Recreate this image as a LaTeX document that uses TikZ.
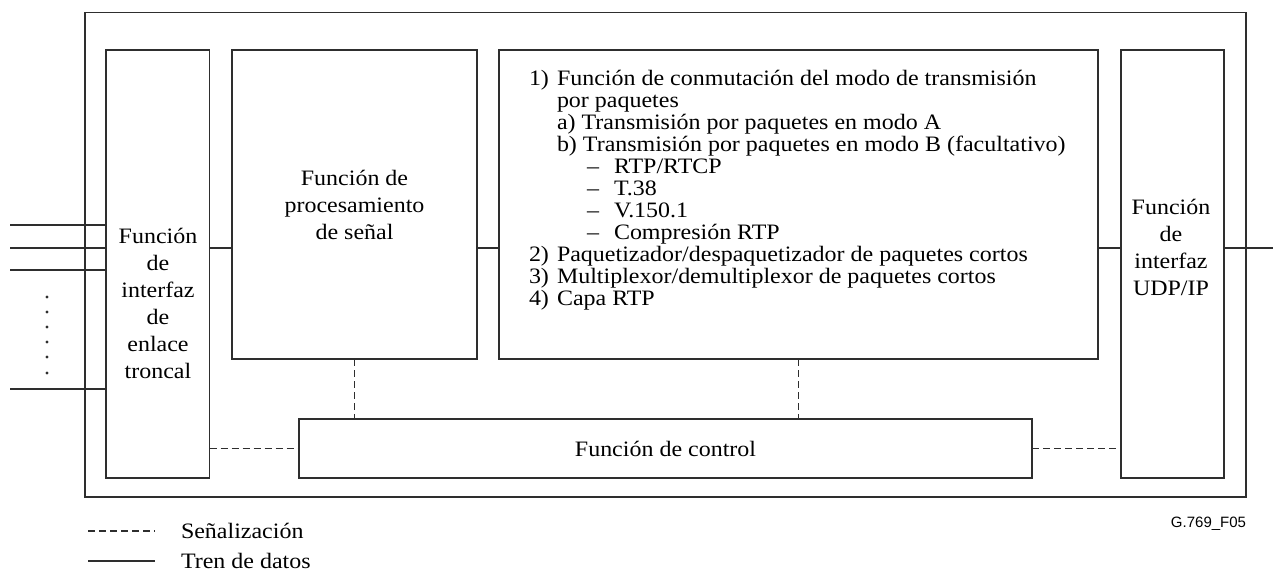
\documentclass[tikz,border=0pt]{standalone}
\usepackage{fontspec}
\setmainfont{Liberation Serif}[FakeStretch=1.09]
\newfontfamily\figsans{Liberation Sans}
\definecolor{ink}{gray}{0.18}
\begin{document}
\begin{tikzpicture}[x=1pt,y=-1pt,
  every node/.style={inner sep=0pt, outer sep=0pt},
  box/.style={draw=ink, line width=1.3pt, rectangle},
  frame/.style={draw=ink, line width=1.6pt, rectangle},
  txt/.style={font=\fontsize{22}{22}\selectfont, text=black},
  data/.style={draw=ink, line width=1.3pt},
  sig/.style={draw=ink, line width=1.3pt, dash pattern=on 7pt off 4pt},
]
\useasboundingbox (0,0) rectangle (1273,577);

% outer frame
\node[frame, minimum width=1161pt, minimum height=484.3pt] (frame) at (665.5,254.85) {};

% boxes
\node[box, minimum width=103.5pt, minimum height=428pt] (lb) at (157.75,264) {};
\node[txt, align=center, font=\fontsize{22}{27}\selectfont] (lbt) at (158,303) {Función\\de\\interfaz\\de\\enlace\\troncal};

\node[box, txt, align=center, font=\fontsize{22}{27}\selectfont, minimum width=245pt, minimum height=309pt] (sp) at (354.5,204.5) {Función de\\procesamiento\\de señal};

\node[box, minimum width=599pt, minimum height=309pt] (pk) at (798.5,204.5) {};

\node[box, minimum width=103pt, minimum height=428pt] (ud) at (1172.5,264) {};
\node[txt, align=center, font=\fontsize{22}{27}\selectfont] (udt) at (1171,247) {Función\\de\\interfaz\\UDP/IP};

\node[box, txt, minimum width=733pt, minimum height=59pt] (ct) at (665.5,448.5) {Función de control};

% text of the packet box
\node[txt, anchor=base west] (p1) at (529,85.7) {1)};
\node[txt, anchor=base west] (p1t) at (557,85.7) {Función de conmutación del modo de transmisión};
\node[txt, anchor=base west] (p2) at (557,107.7) {por paquetes};
\node[txt, anchor=base west] (p3) at (557,129.7) {a) Transmisión por paquetes en modo A};
\node[txt, anchor=base west] (p4) at (557,151.7) {b) Transmisión por paquetes en modo B (facultativo)};
\node[txt, anchor=base west] (d1) at (587,173.7) {–};
\node[txt, anchor=base west] (p5) at (614,173.7) {RTP/RTCP};
\node[txt, anchor=base west] (d2) at (587,195.7) {–};
\node[txt, anchor=base west] (p6) at (614,195.7) {T.38};
\node[txt, anchor=base west] (d3) at (587,217.7) {–};
\node[txt, anchor=base west] (p7) at (614,217.7) {V.150.1};
\node[txt, anchor=base west] (d4) at (587,239.7) {–};
\node[txt, anchor=base west] (p8) at (614,239.7) {Compresión RTP};
\node[txt, anchor=base west] (p9) at (529,261.7) {2)};
\node[txt, anchor=base west] (p9t) at (557,261.7) {Paquetizador/despaquetizador de paquetes cortos};
\node[txt, anchor=base west] (p10) at (529,283.7) {3)};
\node[txt, anchor=base west] (p10t) at (557,283.7) {Multiplexor/demultiplexor de paquetes cortos};
\node[txt, anchor=base west] (p11) at (529,305.7) {4)};
\node[txt, anchor=base west] (p11t) at (557,305.7) {Capa RTP};

% data path
\coordinate (dy) at (0,248);
\draw[data] (lb.east |- dy) -- (sp.west |- dy);
\draw[data] (sp.east |- dy) -- (pk.west |- dy);
\draw[data] (pk.east |- dy) -- (ud.west |- dy);
\coordinate (outR) at (1273,248);
\draw[data] (ud.east |- dy) -- (outR);
\foreach \y/\n in {225/a,248/b,270/c,389/d} {
  \coordinate (in\n) at (10,\y);
  \draw[data] (in\n) -- (lb.west |- in\n);
}
\foreach \y in {297,312,327,342,357,373} \fill[ink] (47,\y) circle (1.6pt);

% signalling
\draw[sig] (sp.south) -- (sp.south |- ct.north);
\draw[sig] (pk.south) -- (pk.south |- ct.north);
\draw[sig] (lb.east |- ct.west) -- (ct.west);
\draw[sig] (ct.east) -- (ud.west |- ct.east);

% legend
\coordinate (ls1) at (88,531); \coordinate (ls2) at (155,531);
\draw[sig] (ls1) -- (ls2);
\node[txt, anchor=base west] (lsig) at (181,538) {Señalización};
\coordinate (ld1) at (88,561); \coordinate (ld2) at (155,561);
\draw[data] (ld1) -- (ld2);
\node[txt, anchor=base west] (ldat) at (181,568) {Tren de datos};

% figure id
\node[font=\figsans\fontsize{15}{15}\selectfont, anchor=base] (fid) at (1208.5,527) {G.769\_F05};
\end{tikzpicture}
\end{document}
